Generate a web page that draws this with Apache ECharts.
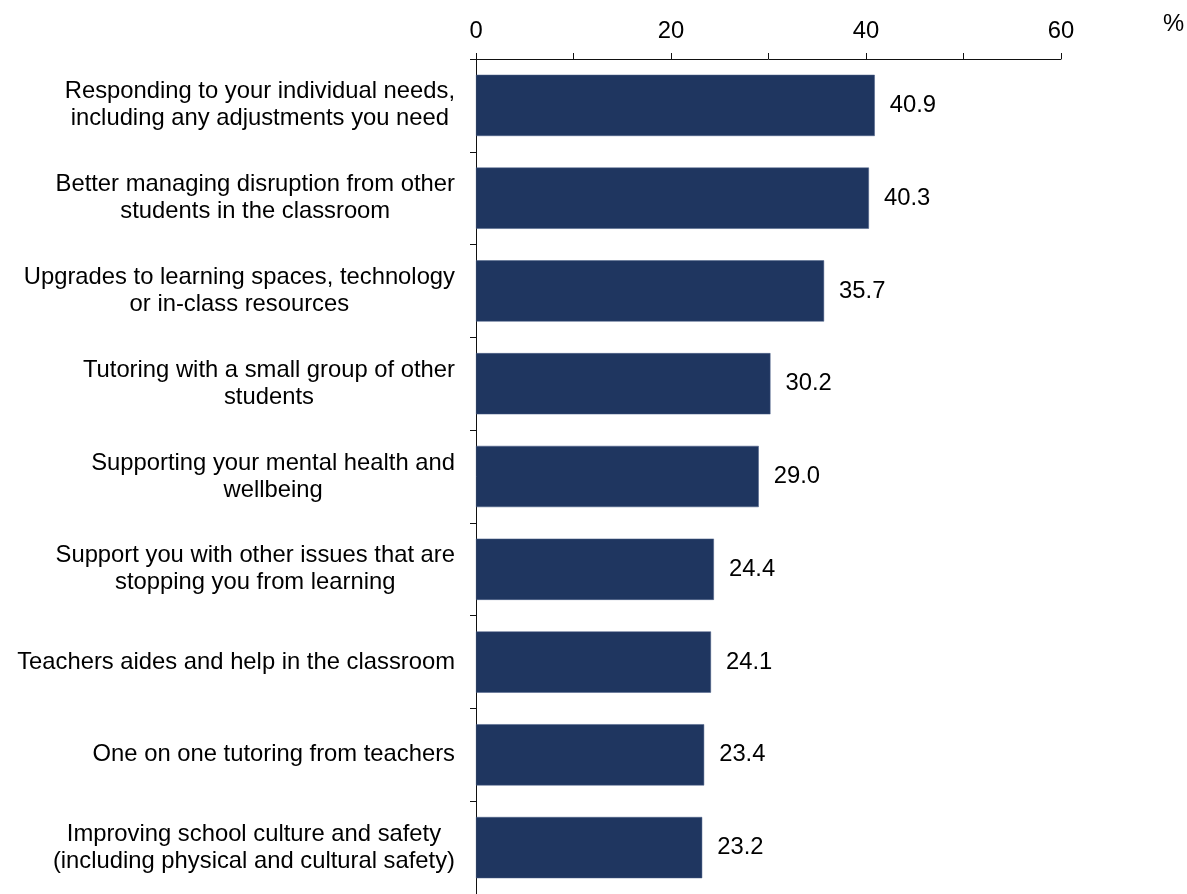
<!DOCTYPE html>
<html>
<head>
<meta charset="utf-8">
<script src="https://cdn.jsdelivr.net/npm/echarts@6/dist/echarts.min.js"></script>
<style>
  html, body { margin: 0; padding: 0; background: #fff; }
  #chart { width: 1187px; height: 894px; }
</style>
</head>
<body>
<div id="chart"></div>
<script>
// Categories (top to bottom), with manual line breaks
const categories = [
  'Responding to your individual needs,\nincluding any adjustments you need',
  'Better managing disruption from other\nstudents in the classroom',
  'Upgrades to learning spaces, technology\nor in-class resources',
  'Tutoring with a small group of other\nstudents',
  'Supporting your mental health and\nwellbeing',
  'Support you with other issues that are\nstopping you from learning',
  'Teachers aides and help in the classroom',
  'One on one tutoring from teachers',
  'Improving school culture and safety\n(including physical and cultural safety)'
];

// Share of students (%)
const values = [40.9, 40.3, 35.7, 30.2, 29.0, 24.4, 24.1, 23.4, 23.2];

// Value axis tick labels
const xTicks = [0, 20, 40, 60];

const FONT = "'Liberation Sans', Arial, Helvetica, sans-serif";
const FS = 23.8;

const chart = echarts.init(document.getElementById('chart'), null, { renderer: 'canvas' });

chart.setOption({
  animation: false,
  backgroundColor: '#ffffff',
  title: {
    text: '%',
    left: 1158,
    top: 7,
    textStyle: { fontFamily: FONT, fontSize: FS, fontWeight: 'normal', color: '#000' }
  },
  grid: { left: 476, right: 126, top: 59, bottom: -2, containLabel: false },
  xAxis: {
    type: 'value',
    position: 'top',
    min: xTicks[0],
    max: xTicks[xTicks.length - 1],
    interval: xTicks[1] - xTicks[0],
    axisLine: { show: true, lineStyle: { color: '#111', width: 1 } },
    axisTick: { show: true, inside: false, length: 6, lineStyle: { color: '#111' } },
    minorTick: { show: true, splitNumber: 2, length: 6, lineStyle: { color: '#111' } },
    splitLine: { show: false },
    axisLabel: {
      margin: 16,
      color: '#000',
      fontFamily: FONT,
      fontSize: FS
    }
  },
  yAxis: {
    type: 'category',
    inverse: true,
    data: categories,
    axisLine: { show: true, lineStyle: { color: '#111', width: 1 } },
    axisTick: { show: true, inside: false, length: 6, alignWithLabel: false, lineStyle: { color: '#111' } },
    axisLabel: {
      margin: 21,
      color: '#000',
      fontFamily: FONT,
      fontSize: FS,
      lineHeight: 27,
      align: 'right',
      formatter: function (v) {
        return v.split('\n').map(function (s) { return '{c|' + s + '}'; }).join('\n');
      },
      rich: {
        c: { align: 'center', fontFamily: FONT, fontSize: FS, lineHeight: 27, color: '#000' }
      }
    }
  },
  series: [{
    type: 'bar',
    data: values,
    barCategoryGap: '34%',
    itemStyle: { color: '#1F3660', borderColor: '#4a5f86', borderWidth: 0.5 },
    label: {
      show: true,
      position: 'right',
      distance: 15,
      color: '#000',
      fontFamily: FONT,
      fontSize: FS,
      formatter: function (p) { return p.value.toFixed(1); }
    }
  }]
});
</script>
</body>
</html>
